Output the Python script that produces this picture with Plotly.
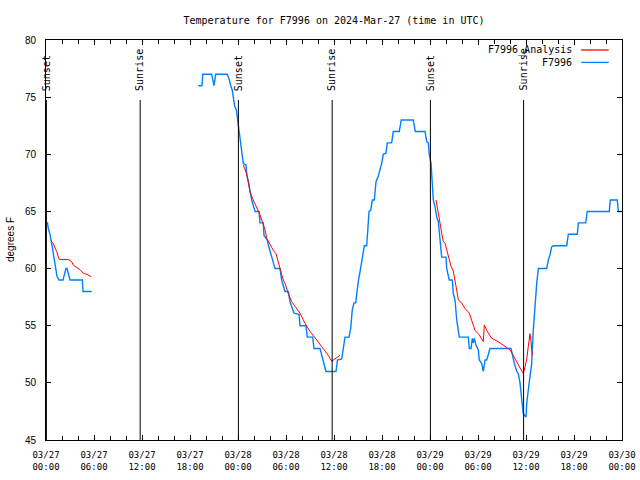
import pandas as pd
import plotly.graph_objects as go

START = pd.Timestamp("2024-03-27 00:00")

# F7996 observations: hours after 03/27 00:00 UTC, temperature (F); None = gap
obs_hours = [0.09, 0.19, 0.29, 0.50, 0.71, 0.91, 1.16, 1.38, 1.63, 2.13, 2.31, 2.50, 2.63, 2.81, 3.00,
             4.54, 4.63, 5.71, None,
             19.04, 19.50, 19.59, 20.71, 21.00, 21.21, 22.66, 22.88, 23.09, 23.29, 23.41, 23.59, 23.79,
             23.96, 24.13, 24.25, 24.46, 24.66, 25.00, 25.09, 25.29, 25.50, 25.71, 26.13, 26.63, 26.75,
             27.16, 27.25, 27.66, 27.79, 28.21, 28.63, 29.25, 29.46, 29.88, 30.29, 30.50, 31.00, 31.63,
             31.75, 32.50, 32.66, 33.34, 33.50, 34.25, 34.46, 34.66, 35.00, 36.25, 36.44, 36.96, 37.16,
             37.38, 37.88, 38.09, 38.29, 38.50, 38.71, 38.84, 39.04, 39.25, 39.46, 39.66, 39.79, 40.09,
             40.21, 40.38, 40.59, 40.79, 41.04, 41.25, 41.54, 41.75, 41.96, 42.16, 42.50, 42.66, 43.21,
             43.41, 44.16, 44.41, 45.91, 46.16, 47.38, 47.59, 47.79, 47.91, 48.13, 48.21, 48.41, 48.63,
             48.84, 49.04, 49.25, 49.46, 50.00, 50.09, 50.41, 50.79, 50.91, 51.13, 51.34, 51.66, 52.79,
             52.91, 53.13, 53.29, 53.41, 53.54, 53.75, 54.04, 54.16, 54.46, 54.66, 54.88, 55.09, 55.29,
             55.50, 58.13, 58.34, 58.54, 58.84, 59.04, 59.25, 59.46, 59.66, 60.00, 60.09, 60.29, 60.50,
             60.71, 60.91, 61.13, 61.34, 61.54, 62.59, 62.79, 63.00, 63.21, 63.41, 65.09, 65.29, 66.41,
             66.54, 67.46, 67.66, 70.41, 70.54, 71.41, 71.54, 72.00]
obs_temp = [64, 64, 63.5, 63, 62.2, 61.3, 60.2, 59.3, 59, 59, 59.5, 60, 60, 59.5, 59,
            59, 58, 58, None,
            76, 76, 77, 77, 76, 77, 77, 76.6, 76, 75.6, 75, 74.2, 73.9,
            73, 71.8, 71.25, 70.4, 69.2, 69.06, 68.2, 67.6, 66.9, 66, 65, 65, 64,
            64, 62.9, 62.5, 62.06, 61, 60, 60, 59, 58, 58, 57.1, 56.1, 56,
            55, 55, 54, 54, 53, 53, 52.4, 52, 51, 51, 52, 52.1, 53.2,
            54, 54, 54.8, 56.4, 57, 57, 57.8, 58.9, 59.7, 60.5, 61.2, 62, 62,
            63.1, 65, 65.1, 66, 66, 67.6, 68.1, 68.6, 69.2, 70, 70.1, 71, 71,
            72, 72, 73, 73, 72, 72, 71.1, 71, 70, 69.2, 68.3, 66, 65.4,
            64.5, 64.1, 62.8, 61, 61, 60, 59, 59, 57.8, 57.25, 55.5, 54, 54,
            53, 53, 53.9, 53.5, 53.9, 53.3, 52.9, 52, 51.7, 51, 52, 52, 52.4,
            53, 53, 52.3, 51.7, 51, 50.8, 50, 48.8, 47.3, 47, 48.2, 49.4, 50.5,
            51.7, 54.6, 57, 58.7, 60, 60, 60.75, 61.2, 61.9, 62, 62, 63, 63,
            64, 64, 65, 65, 66, 66, 65, 65]

# F7996_Analysis: hours after 03/27 00:00 UTC, temperature (F); None = gap
ana_hours = [0.63, 0.91, 1.13, 1.34, 1.54, 1.66, 2.79, 3.21, 3.41, 3.84, 4.25, 4.66, 5.09, 5.63, None,
             24.66, 25.09, 25.29, 25.50, 25.91, 26.34, 26.75, 27.09, 27.38, 27.59, 28.00, 28.41, 28.75,
             29.04, 29.25, 29.59, 29.88, 30.29, 30.71, 31.13, 31.75, 32.38, 33.00, 33.84, 34.66, 35.29,
             35.71, 36.13, 36.75, None,
             48.75, 49.04, 49.25, 49.46, 49.66, 49.88, 50.09, 50.29, 50.50, 50.63, 50.91, 51.25, 51.54,
             51.75, 51.96, 52.38, 52.91, 53.63, 54.16, 54.66, 54.79, 55.09, 55.71, 56.54, 57.38, 58.00,
             58.63, 59.04, 59.46, 59.66, 59.88, 60.09, 60.29, 60.50, 60.63, 60.79]
ana_temp = [62.4, 62.2, 61.8, 61.5, 61.0, 60.8, 60.8, 60.6, 60.3, 60.1, 59.9, 59.6, 59.5, 59.3, None,
            69.06, 68.3, 67.6, 66.7, 66, 65.4, 64.7, 64, 63.4, 62.65, 62.06, 61.6, 61.3,
            60.6, 60, 59.15, 58.7, 57.8, 57.1, 56.7, 56.1, 55.2, 54.5, 53.75, 53, 52.4,
            51.9, 52.1, 52.4, None,
            66, 64.6, 64, 63.1, 62.4, 62.2, 61.6, 61, 60.3, 60.2, 59.8, 58.6, 57.3,
            57.1, 57, 56.5, 56.1, 54.6, 54.2, 53.6, 55.06, 54.6, 53.9, 53.6, 53.2, 52.9,
            52.1, 51.6, 51, 50.8, 51.4, 52.1, 53.2, 54.3, 53.6, 52.4]

# Sun events (hours after 03/27 00:00 UTC)
event_hours = [0.05, 11.77, 24.05, 35.77, 48.05, 59.7]
event_names = ["Sunset", "Sunrise", "Sunset", "Sunrise", "Sunset", "Sunrise"]

series_names = ["F7996_Analysis", "F7996"]
series_colors = ["#ff0000", "#0080ff"]


def to_time(hours):
    return [None if h is None else START + pd.Timedelta(hours=h) for h in hours]


fig = go.Figure()
fig.add_trace(go.Scatter(x=to_time(obs_hours), y=obs_temp, mode="lines", name=series_names[1],
                         line=dict(color=series_colors[1], width=1.4), connectgaps=False,
                         showlegend=False, hoverinfo="skip"))
fig.add_trace(go.Scatter(x=to_time(ana_hours), y=ana_temp, mode="lines", name=series_names[0],
                         line=dict(color=series_colors[0], width=1), connectgaps=False,
                         showlegend=False, hoverinfo="skip"))

mono = "DejaVu Sans Mono"
shapes = []
annotations = []
for h, name in zip(event_hours, event_names):
    t = START + pd.Timedelta(hours=h)
    shapes.append(dict(type="line", xref="x", yref="paper", x0=t, x1=t, y0=0, y1=0.85,
                       line=dict(color="black", width=1)))
    annotations.append(dict(x=t, xref="x", y=0.868, yref="paper", text=name, showarrow=False,
                            textangle=-90, xanchor="center", yanchor="bottom",
                            font=dict(family=mono, size=10, color="black")))

# gnuplot-style key (text on the left, line sample on the right)
key_y = [0.975, 0.944]
for name, color, ky in zip(series_names, series_colors, key_y):
    annotations.append(dict(x=0.917, xref="paper", y=ky, yref="paper", text=name, showarrow=False,
                            xanchor="right", yanchor="middle",
                            font=dict(family=mono, size=10, color="black")))
    shapes.append(dict(type="line", xref="paper", yref="paper", x0=0.929, x1=0.977, y0=ky, y1=ky,
                       line=dict(color=color, width=1.3)))

annotations.append(dict(x=-0.0625, xref="paper", y=0.5, yref="paper", text="degrees F",
                        showarrow=False, textangle=-90, xanchor="center", yanchor="middle",
                        font=dict(family="Liberation Sans", size=10, color="black")))

fig.update_layout(
    width=640, height=480, autosize=False,
    margin=dict(l=46, r=18, t=40, b=40, autoexpand=False),
    paper_bgcolor="white", plot_bgcolor="white",
    title=dict(text="Temperature for F7996 on 2024-Mar-27 (time in UTC)",
               x=0.5, xref="paper", y=1 - 20 / 480, yref="container",
               xanchor="center", yanchor="middle",
               font=dict(family=mono, size=10, color="black")),
    shapes=shapes, annotations=annotations, showlegend=False,
)

fig.update_xaxes(
    type="date", automargin=False,
    range=[START, START + pd.Timedelta(hours=72)],
    tickmode="linear", tick0=START, dtick=6 * 3600 * 1000,
    tickformat="%m/%d<br>%H:%M",
    ticks="inside", ticklen=5, tickcolor="black", tickwidth=1,
    minor=dict(ticks="inside", ticklen=4, dtick=2 * 3600 * 1000, tick0=START, tickcolor="black"),
    showline=True, linecolor="black", linewidth=1, mirror="allticks",
    showgrid=False, zeroline=False,
    tickfont=dict(family=mono, size=9, color="black"),
    ticklabelstandoff=6,
)
fig.update_yaxes(
    automargin=False,
    range=[45, 80], tickmode="linear", tick0=45, dtick=5,
    ticks="inside", ticklen=5, tickcolor="black", tickwidth=1,
    showline=True, linecolor="black", linewidth=1, mirror="allticks",
    showgrid=False, zeroline=False,
    tickfont=dict(family="Liberation Sans", size=10, color="black"),
    ticklabelstandoff=7,
)

fig.write_html("out.html", config={"displayModeBar": False},
               post_script="document.body.style.margin='0';")
